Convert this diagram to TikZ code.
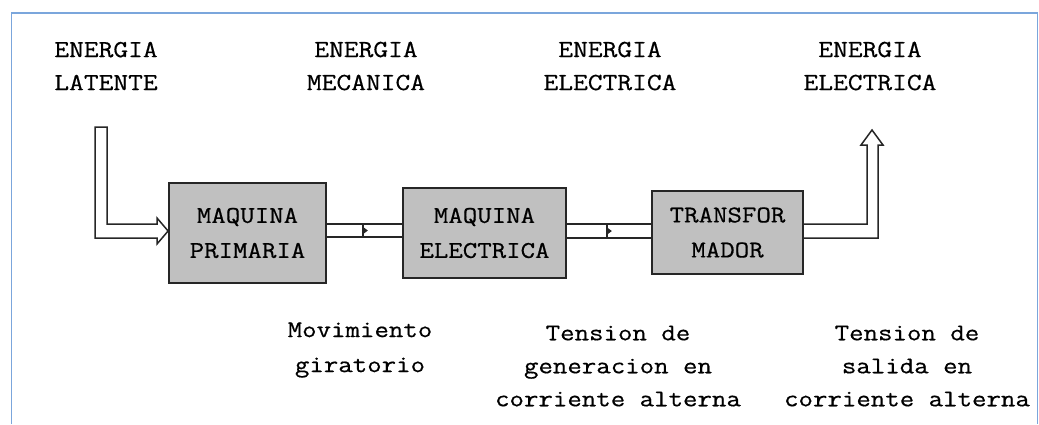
\documentclass[tikz,border=0pt]{standalone}
\usepackage{fontspec}
\setmainfont{Latin Modern Mono}[FakeStretch=1.17,FakeBold=0.6]
\usetikzlibrary{calc}
\definecolor{framebl}{HTML}{7BA6DC}
\definecolor{boxgray}{HTML}{C0C0C0}
\begin{document}
\begin{tikzpicture}[x=1pt,y=-1pt,
  lbl/.style={align=center,inner sep=0pt,font=\fontsize{24.5}{33}\selectfont},
  sub/.style={align=center,inner sep=0pt,font=\fontsize{24}{33}\selectfont},
  blk/.style={draw=black!85,line width=1.8pt,fill=boxgray,align=center,inner sep=0pt,
    font=\fontsize{24}{35}\selectfont},
  pipe/.style={draw=black!85,line width=1.5pt},
  mk/.style={fill=black!85,draw=black!85,line width=1pt}]
\useasboundingbox (0,0) rectangle (1039,424);
% frame
\draw[framebl,line width=1.5pt] (11.5,424) -- (11.5,13) -- (1037.5,13) -- (1037.5,424);
% top labels
\node[lbl] (t1) at (106,66) {ENERGIA\\LATENTE};
\node[lbl] (t2) at (366,66) {ENERGIA\\MECANICA};
\node[lbl] (t3) at (610,66) {ENERGIA\\ELECTRICA};
\node[lbl] (t4) at (870,66) {ENERGIA\\ELECTRICA};
% blocks
\node[blk,minimum width=157pt,minimum height=100pt] (b1) at (247.5,233) {MAQUINA\\PRIMARIA};
\node[blk,minimum width=163pt,minimum height=90pt] (b2) at (484.5,233) {MAQUINA\\ELECTRICA};
\node[blk,minimum width=151pt,minimum height=83pt] (b3) at (727.5,232.5) {TRANSFOR\\MADOR};
% bottom labels
\node[sub,font=\fontsize{24}{35}\selectfont] (s1) at (360,350) {Movimiento\\giratorio};
\node[sub] (s2) at (618,366) {Tension de\\generacion en\\corriente alterna};
\node[sub] (s3) at (907,366) {Tension de\\salida en\\corriente alterna};
% input hollow arrow
\draw[pipe,line join=miter]
  (95,127) -- (107,127) -- (107,224) -- (157,224) -- (157,218)
  -- (b1.west |- 0,231) -- (157,244) -- (157,238) -- (95,238) -- cycle;
% pipe b1 -> b2
\draw[pipe] (b1.east |- 0,224) -- (b2.west |- 0,224);
\draw[pipe] (b1.east |- 0,237) -- (b2.west |- 0,237);
\draw[draw=black!85,line width=1.5pt] (363,224) -- (363,237);
\fill[mk] (363,227.5) -- (367,230.5) -- (363,233.5) -- cycle;
% pipe b2 -> b3
\draw[pipe] (b2.east |- 0,224) -- (b3.west |- 0,224);
\draw[pipe] (b2.east |- 0,238) -- (b3.west |- 0,238);
\draw[draw=black!85,line width=1.5pt] (607,224) -- (607,238);
\fill[mk] (607,228) -- (611,231) -- (607,234) -- cycle;
% output hollow arrow
\draw[pipe,line join=miter]
  (b3.east |- 0,224) -- (867,224) -- (867,145) -- (861,145) -- (872,130)
  -- (883,145) -- (878,145) -- (878,238) -- (b3.east |- 0,238);
\end{tikzpicture}
\end{document}
